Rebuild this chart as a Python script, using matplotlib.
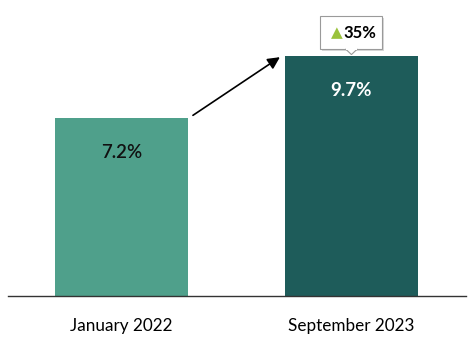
import matplotlib.pyplot as plt
from matplotlib.patches import Rectangle, Polygon

categories = ['January 2022', 'September 2023']
values = [7.2, 9.7]
value_labels = ['7.2%', '9.7%']
change_label = '35%'

bar_colors = ['#4fa08b', '#1e5c5a']
label_colors = ['#111111', 'white']

fig = plt.figure(figsize=(4.74, 3.52), dpi=100)
ax = fig.add_axes([8 / 474, 56 / 352, 458 / 474, 296 / 352])

x = range(len(categories))
ax.bar(x, values, width=0.578, color=bar_colors, zorder=2)
ax.set_xlim(-0.493, 1.498)
ax.set_ylim(0, 11.96)

for i, v in enumerate(values):
    ax.text(i, v - 1.4, value_labels[i], ha='center', va='center',
            fontsize=13.5, color=label_colors[i], family='Lato',
            fontweight='semibold' if i == 0 else 'bold')

# arrow between the bars
ax.annotate('', xy=(0.689, values[1] - 0.05), xytext=(0.311, values[0] + 0.1),
            arrowprops=dict(arrowstyle='-|>', color='black', lw=1.2,
                            mutation_scale=18, shrinkA=0, shrinkB=0))

# callout box above the second bar
bx, by = 1.0, values[1] + 0.94
bw, bh = 0.27, 1.33
ax.add_patch(Rectangle((bx - bw / 2 + 0.008, by - bh / 2 - 0.08), bw, bh,
                       facecolor='#d8d8d8', edgecolor='none', zorder=3))
ax.add_patch(Rectangle((bx - bw / 2, by - bh / 2), bw, bh,
                       facecolor='white', edgecolor='#9a9a9a', lw=0.8, zorder=4))
ax.add_patch(Polygon([(bx - 0.025, by - bh / 2), (bx + 0.025, by - bh / 2),
                      (bx, by - bh / 2 - 0.22)], closed=True,
                     facecolor='white', edgecolor='#9a9a9a', lw=0.8, zorder=4))
ax.add_patch(Rectangle((bx - 0.022, by - bh / 2 - 0.05), 0.044, 0.1,
                       facecolor='white', edgecolor='none', zorder=5))
ax.text(bx - 0.062, by, '\u25b2', ha='center', va='center', fontsize=11,
        color='#9ac23c', family='DejaVu Sans', zorder=6)
ax.text(bx + 0.035, by, change_label, ha='center', va='center', fontsize=12,
        fontweight='bold', color='black', family='Lato', zorder=6)

ax.set_xticks(list(x))
ax.set_xticklabels(categories, fontsize=12.3, family='Lato')
ax.tick_params(axis='x', length=0, pad=16)
ax.set_yticks([])
for s in ['top', 'right', 'left']:
    ax.spines[s].set_visible(False)
ax.spines['bottom'].set_color('#333333')
ax.spines['bottom'].set_linewidth(1)

fig.savefig('out.png', dpi=100)
